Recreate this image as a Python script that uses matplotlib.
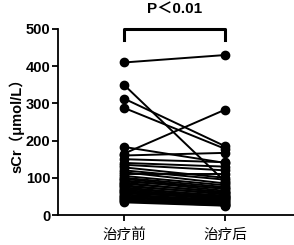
import matplotlib
matplotlib.use("Agg")
import matplotlib.pyplot as plt

plt.rcParams['font.family'] = ['Liberation Sans', 'Noto Sans CJK SC', 'DejaVu Sans']

# paired sCr values, before / after treatment
groups = ['治疗前', '治疗后']
before = [410, 350, 313, 288, 183, 165, 160, 150, 140, 135, 128, 120, 115, 110,
          105, 100, 97, 93, 90, 87, 84, 80, 77, 74, 70, 67, 64, 61, 58, 55, 52,
          49, 46, 43, 40, 37, 34]
after = [430, 90, 185, 178, 140, 283, 167, 142, 130, 120, 100, 95, 85, 110,
         80, 75, 70, 65, 72, 60, 62, 55, 58, 50, 52, 48, 45, 42, 46, 40, 38,
         35, 33, 30, 28, 26, 25]
yticks = [0, 100, 200, 300, 400, 500]
p_text = 'P＜0.01'

fig = plt.figure(figsize=(2.94, 2.45), dpi=100)
ax = fig.add_axes([58/294, 30/245, 236/294, 186/245])

for b, a in zip(before, after):
    ax.plot([0, 1], [b, a], color='black', lw=1.4, marker='o', ms=6,
            solid_capstyle='round', clip_on=False)

ax.set_xlim(-0.653, 1.683)
ax.set_ylim(0, 500)
ax.set_xticks([0, 1])
ax.set_xticklabels(groups, family=['Noto Sans CJK SC'], fontsize=10.5)
ax.set_yticks(yticks)
ax.set_yticklabels([str(t) for t in yticks], fontweight='bold', fontsize=10.5)
ax.set_ylabel('sCr（μmol/L）', fontweight='bold', fontsize=10.5, labelpad=1)

for s in ['top', 'right']:
    ax.spines[s].set_visible(False)
for s in ['left', 'bottom']:
    ax.spines[s].set_linewidth(1.3)
ax.tick_params(width=1.3, length=4, pad=1.5)
ax.tick_params(axis='x', pad=5)

# significance bracket
ax.plot([0, 0, 1, 1], [470, 500, 500, 470], color='black', lw=2.2, clip_on=False)
ax.text(0.5, 554, p_text, ha='center', va='center', fontweight='bold',
        fontsize=11, clip_on=False)

fig.savefig('out.png', dpi=100)
